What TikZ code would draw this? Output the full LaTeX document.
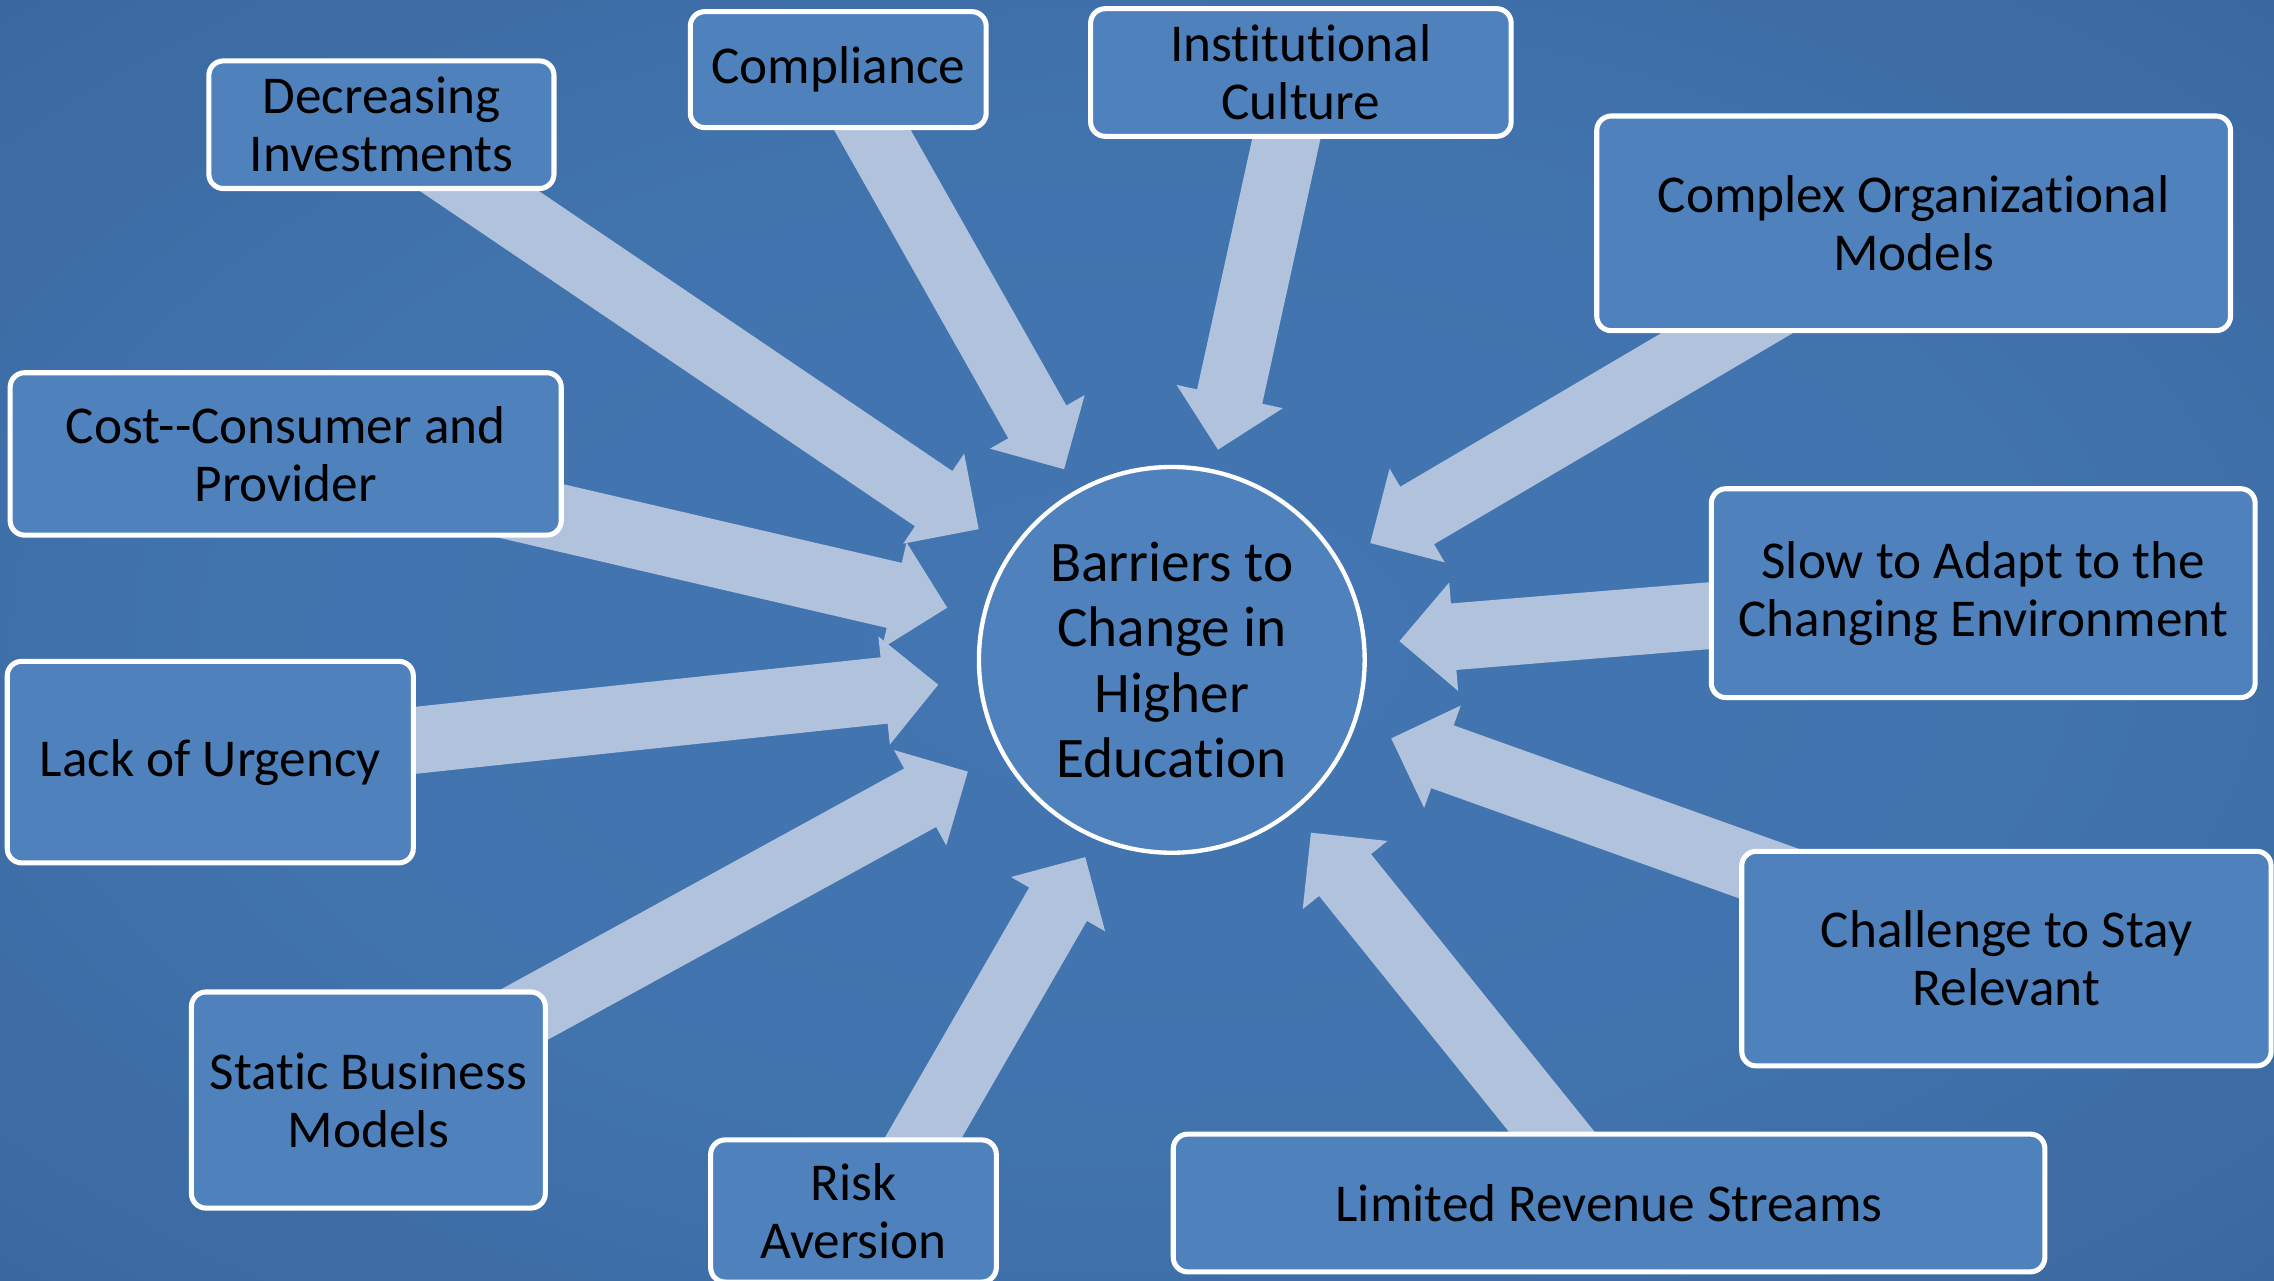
\documentclass[tikz,border=0pt]{standalone}
\usepackage{fontspec}
\setmainfont{Carlito}[Ligatures=NoCommon]
\usetikzlibrary{calc}
\definecolor{bgin}{HTML}{4376B2}
\definecolor{bgin2}{HTML}{4173AD}
\definecolor{bgmid}{HTML}{3A669D}
\definecolor{bgmid2}{HTML}{345D8F}
\definecolor{bgout}{HTML}{315887}
\definecolor{boxfill}{HTML}{4F81BD}
\definecolor{arrowcol}{HTML}{B1C2DC}
\pgfdeclareradialshading{bgshade}{\pgfpoint{0bp}{0bp}}{color(0bp)=(bgin); color(20bp)=(bgin2); color(38bp)=(bgmid); color(52bp)=(bgmid2); color(71bp)=(bgout)}
\pgfdeclarelayer{back}
\pgfdeclarelayer{arr}
\pgfsetlayers{back,arr,main}
\tikzset{
  barrier/.style={draw=white, line width=3.5pt, fill=boxfill, rounded corners=10pt,
    align=center, inner sep=0pt, text=black, font=\fontsize{36.7}{40}\selectfont},
  hub/.style={circle, draw=white, line width=3pt, fill=boxfill, minimum size=266pt,
    inner sep=0pt, align=center, text=black, font=\fontsize{39.5}{45}\selectfont},
  barrow/.style={fill=arrowcol}
}
% block arrow from tail coordinate #1 to tip coordinate #2
\newcommand\barrowcore[2]{%
  \coordinate (bt) at (#1);
  \coordinate (bp) at (#2);
  \coordinate (bh) at ($(bp)!37.5pt!(bt)$);
  \fill[barrow] ($(bt)!23pt!90:(bp)$) -- ($(bh)!23pt!90:(bp)$) -- ($(bh)!37.5pt!90:(bp)$)
    -- (bp) -- ($(bh)!37.5pt!-90:(bp)$) -- ($(bh)!23pt!-90:(bp)$) -- ($(bt)!23pt!-90:(bp)$) -- cycle;
}
% block arrow from node #1 toward node #2, tip at distance #3 from #2
\newcommand\blockarrow[3]{%
  \coordinate (tipc) at ($(#2.center)!#3pt!(#1.center)$);
  \barrowcore{#1.center}{tipc}
}
\begin{document}
\begin{tikzpicture}[x=1pt,y=-1pt]
\useasboundingbox (0,0) rectangle (1568,883);
\begin{pgfonlayer}{back}
  \shade[shading=bgshade] (0,0) rectangle (1568,883);
\end{pgfonlayer}

\node[hub] (c) at (808,455) {Barriers to\\Change in\\Higher\\Education};

\node[barrier, minimum width=238pt, minimum height=88pt] (dec) at (263,86) {Decreasing\\Investments};
\node[barrier, minimum width=204pt, minimum height=80pt] (comp) at (578,48) {Compliance};
\node[barrier, minimum width=290pt, minimum height=88pt] (inst) at (897,50) {Institutional\\Culture};
\node[barrier, minimum width=437pt, minimum height=148pt] (cplx) at (1319.5,154) {Complex Organizational\\Models};
\node[barrier, minimum width=380pt, minimum height=112pt] (cost) at (197,313) {Cost-{}-Consumer and\\Provider};
\node[barrier, minimum width=375pt, minimum height=144pt] (slow) at (1367.5,409) {Slow to Adapt to the\\Changing Environment};
\node[barrier, minimum width=280pt, minimum height=139pt] (lack) at (145,525.5) {Lack of Urgency};
\node[barrier, minimum width=365pt, minimum height=148pt] (chal) at (1383.5,661) {Challenge to Stay\\Relevant};
\node[barrier, minimum width=244pt, minimum height=149pt] (stat) at (254,758.5) {Static Business\\Models};
\node[barrier, minimum width=197pt, minimum height=98pt] (risk) at (588.5,835) {Risk\\Aversion};
\node[barrier, minimum width=601pt, minimum height=95pt] (lim) at (1109.5,829.5) {Limited Revenue Streams};

\coordinate (risktail) at ($(risk.center)+(19,0)$);
\coordinate (risktip) at (748.3,591);

\begin{pgfonlayer}{arr}
  \blockarrow{dec}{c}{160.8}
  \blockarrow{comp}{c}{151}
  \blockarrow{inst}{c}{148.4}
  \blockarrow{cplx}{c}{158.8}
  \blockarrow{cost}{c}{159}
  \blockarrow{slow}{c}{157.5}
  \blockarrow{lack}{c}{162}
  \blockarrow{chal}{c}{160.7}
  \blockarrow{stat}{c}{160.4}
  \barrowcore{risktail}{risktip}
  \blockarrow{lim}{c}{153}
\end{pgfonlayer}
\end{tikzpicture}
\end{document}
